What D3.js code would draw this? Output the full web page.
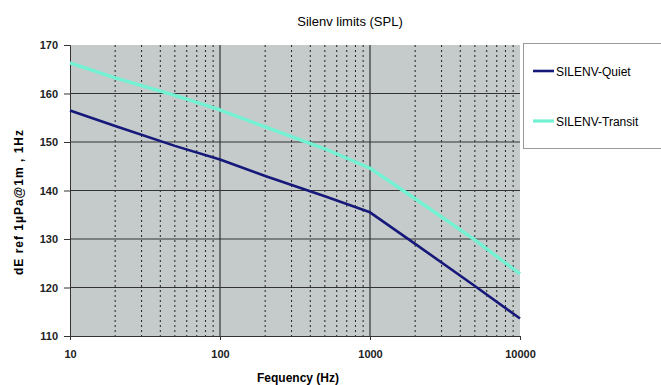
<!DOCTYPE html>
<html lang="en">
<head>
<meta charset="UTF-8">
<title>Silenv limits (SPL)</title>
<style>
body { margin: 0; background: #fff; }
svg { display: block; font-family: "Liberation Sans", Arial, sans-serif; }
.tick text { font-size: 11px; font-weight: bold; fill: #222; }
</style>
</head>
<body>
<script src="https://cdnjs.cloudflare.com/ajax/libs/d3/7.8.5/d3.min.js"></script>
<script>
// data
var freqs = [10, 20, 50, 100, 200, 500, 1000, 2000, 5000, 10000];
var quiet = [156.5, 153.3, 149.2, 146.4, 143.0, 138.8, 135.5, 129.0, 120.3, 113.6];
var transit = [166.3, 163.2, 159.6, 156.6, 153.1, 148.6, 144.6, 138.3, 129.8, 122.8];
var seriesNames = ["SILENV-Quiet", "SILENV-Transit"];
var seriesColors = ["#16187a", "#72f2d2"];
var yTicks = [110, 120, 130, 140, 150, 160, 170];
var xTicks = [10, 100, 1000, 10000];

var W = 661, H = 385;
var margin = { left: 70, right: 141, top: 45, bottom: 49 };

var svg = d3.select("body").append("svg")
  .attr("width", W)
  .attr("height", H);

var x = d3.scaleLog().domain([10, 10000]).range([margin.left, W - margin.right]);
var y = d3.scaleLinear().domain([110, 170]).range([H - margin.bottom, margin.top]);

// plot background
svg.append("rect")
  .attr("x", x(10)).attr("y", y(170))
  .attr("width", x(10000) - x(10))
  .attr("height", y(110) - y(170))
  .attr("fill", "#c4cbca");

// minor vertical (dotted) grid
var minor = [];
[10, 100, 1000].forEach(function (d) {
  for (var k = 2; k <= 9; k++) minor.push(d * k);
});
svg.append("g").selectAll("line").data(minor).enter().append("line")
  .attr("x1", function (d) { return x(d); })
  .attr("x2", function (d) { return x(d); })
  .attr("y1", y(170)).attr("y2", y(110))
  .attr("stroke", "#222")
  .attr("stroke-width", 1)
  .attr("stroke-dasharray", "2,3");

// major vertical grid
svg.append("g").selectAll("line").data([100, 1000]).enter().append("line")
  .attr("x1", function (d) { return x(d); })
  .attr("x2", function (d) { return x(d); })
  .attr("y1", y(170)).attr("y2", y(110))
  .attr("stroke", "#333")
  .attr("stroke-width", 1.2);

// horizontal grid
svg.append("g").selectAll("line").data(yTicks.slice(1, -1)).enter().append("line")
  .attr("x1", x(10)).attr("x2", x(10000))
  .attr("y1", function (d) { return y(d); })
  .attr("y2", function (d) { return y(d); })
  .attr("stroke", "#333")
  .attr("stroke-width", 1.2);

// axes
var yAxis = svg.append("g")
  .attr("transform", "translate(" + x(10) + ",0)")
  .call(d3.axisLeft(y).tickValues(yTicks).tickSize(6).tickPadding(6).tickFormat(d3.format("d")));
var xAxis = svg.append("g")
  .attr("transform", "translate(0," + y(110) + ")")
  .call(d3.axisBottom(x).tickValues(xTicks).tickSize(4).tickPadding(10).tickFormat(d3.format("d")));
[yAxis, xAxis].forEach(function (a) {
  a.select(".domain").attr("stroke", "#333");
  a.selectAll(".tick line").attr("stroke", "#333");
});

// lines
var line = d3.line()
  .x(function (d, i) { return x(freqs[i]); })
  .y(function (d) { return y(d); });

[quiet, transit].forEach(function (s, i) {
  svg.append("path")
    .datum(s)
    .attr("fill", "none")
    .attr("stroke", seriesColors[i])
    .attr("stroke-width", i == 0 ? 2.6 : 3.4)
    .attr("stroke-linejoin", "round")
    .attr("d", line);
});

// title and axis labels
svg.append("text")
  .attr("x", 350).attr("y", 26)
  .attr("text-anchor", "middle")
  .style("font-size", "13px")
  .text("Silenv limits (SPL)");

svg.append("text")
  .attr("x", 298).attr("y", 382)
  .attr("text-anchor", "middle")
  .style("font-size", "12px").style("font-weight", "bold")
  .text("Fequency (Hz)");

svg.append("text")
  .attr("transform", "translate(23,202) rotate(-90)")
  .attr("text-anchor", "middle")
  .style("font-size", "12px").style("font-weight", "bold")
  .style("letter-spacing", "1px")
  .text("dE ref 1µPa@1m , 1Hz");

// legend
var legend = svg.append("g");
legend.append("rect")
  .attr("x", 523.5).attr("y", 43.5)
  .attr("width", 140).attr("height", 105)
  .attr("fill", "#fff")
  .attr("stroke", "#999");
seriesNames.forEach(function (n, i) {
  var ly = 71 + i * 50;
  legend.append("line")
    .attr("x1", 533).attr("x2", 554)
    .attr("y1", ly).attr("y2", ly)
    .attr("stroke", seriesColors[i])
    .attr("stroke-width", i == 0 ? 2.6 : 3.2);
  legend.append("text")
    .attr("x", 556).attr("y", ly + 4.5)
    .style("font-size", "12px")
    .text(n);
});
</script>
</body>
</html>
